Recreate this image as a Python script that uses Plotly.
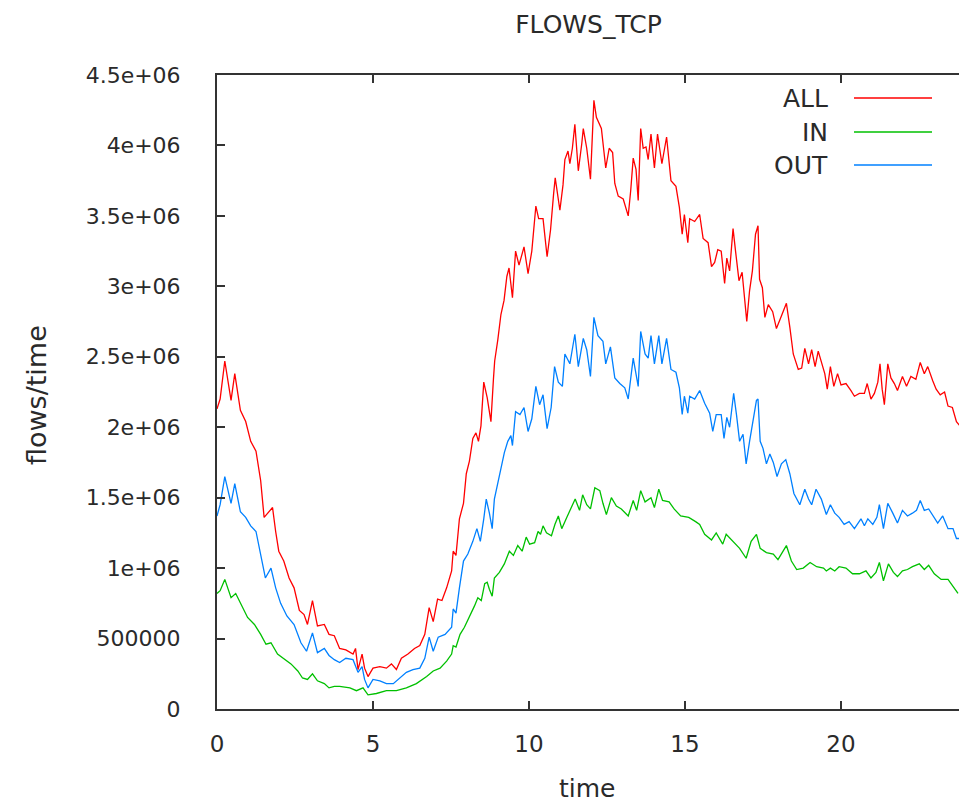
import plotly.graph_objects as go

# ---- data (time in hours, flows in millions) ----
time_all = [0, 0.10, 0.25, 0.45, 0.57, 0.75, 0.92, 1.08, 1.25, 1.40, 1.51, 1.67, 1.78, 1.88,
            1.98, 2.14, 2.31, 2.47, 2.64, 2.79, 2.90, 3.06, 3.22, 3.44, 3.59, 3.76,
            3.93, 4.13, 4.36, 4.44, 4.52, 4.65, 4.73, 4.84, 5.00, 5.22, 5.43, 5.59, 5.75, 5.91,
            6.12, 6.33, 6.50, 6.66, 6.80, 6.93, 7.07, 7.21, 7.36, 7.52, 7.57, 7.66, 7.77, 7.90,
            7.99, 8.09, 8.20, 8.30, 8.38, 8.46, 8.55, 8.66, 8.73, 8.78, 8.86, 8.90, 9.00, 9.10, 9.20, 9.29, 9.36, 9.47, 9.57, 9.68, 9.84,
            9.97, 10.09, 10.22, 10.31, 10.45, 10.58, 10.69, 10.79, 10.84, 10.99, 11.09, 11.15, 11.25, 11.31, 11.39, 11.47, 11.58, 11.69, 11.74, 11.85,
            11.97, 12.08, 12.16, 12.32, 12.46, 12.57, 12.68, 12.75, 12.86, 13.02, 13.18, 13.26, 13.34, 13.43, 13.50, 13.58, 13.66, 13.75, 13.82,
            13.91, 14.02, 14.12, 14.26, 14.41, 14.55, 14.71, 14.82, 14.91, 14.98, 15.09, 15.15, 15.31, 15.47, 15.58, 15.74, 15.85,
            15.95, 16.05, 16.16, 16.27, 16.34, 16.43, 16.54, 16.62, 16.73, 16.83, 16.91, 16.98, 17.07, 17.16, 17.26, 17.34, 17.39, 17.48, 17.56, 17.67, 17.81,
            17.93, 18.09, 18.25, 18.36, 18.47, 18.63, 18.74, 18.84, 18.96, 19.06, 19.17, 19.27, 19.37, 19.48, 19.56, 19.66, 19.77,
            19.89, 20.00, 20.16, 20.32, 20.43, 20.59, 20.75, 20.84, 20.96, 21.07, 21.18, 21.25, 21.32, 21.39, 21.50, 21.60, 21.71,
            21.81, 21.97, 22.10, 22.24, 22.40, 22.54, 22.67, 22.78, 22.94, 23.05, 23.18, 23.32, 23.43, 23.57, 23.70, 23.81]
flows_all = [2.13, 2.20, 2.47, 2.19, 2.38, 2.12, 2.04, 1.90, 1.83, 1.62, 1.36, 1.40, 1.43, 1.26,
             1.12, 1.05, 0.93, 0.86, 0.70, 0.67, 0.60, 0.77, 0.59, 0.60, 0.53, 0.52,
             0.43, 0.42, 0.39, 0.43, 0.28, 0.39, 0.29, 0.23, 0.29, 0.30, 0.29, 0.32, 0.28, 0.36,
             0.39, 0.43, 0.45, 0.53, 0.72, 0.62, 0.78, 0.77, 0.86, 0.98, 1.12, 1.09, 1.35, 1.46,
             1.67, 1.76, 1.92, 1.96, 1.90, 2.01, 2.32, 2.21, 2.11, 2.04, 2.34, 2.47, 2.62, 2.80, 2.90, 3.07, 3.13, 2.92, 3.25, 3.15, 3.28,
             3.09, 3.25, 3.57, 3.48, 3.48, 3.21, 3.40, 3.66, 3.77, 3.54, 3.72, 3.90, 3.96, 3.87, 3.98, 4.15, 3.82, 4.01, 4.12, 3.98,
             3.76, 4.32, 4.20, 4.12, 3.84, 3.98, 3.95, 3.73, 3.64, 3.62, 3.50, 3.68, 3.91, 3.83, 3.61, 4.12, 3.98, 3.99, 3.90,
             4.08, 3.84, 4.08, 3.87, 4.06, 3.75, 3.71, 3.56, 3.37, 3.51, 3.31, 3.48, 3.46, 3.51, 3.34, 3.31, 3.14,
             3.17, 3.26, 3.25, 3.02, 3.20, 3.11, 3.41, 3.25, 3.04, 3.10, 2.92, 2.75, 2.97, 3.11, 3.37, 3.43, 3.05, 2.99, 2.78, 2.87, 2.82,
             2.70, 2.79, 2.88, 2.71, 2.52, 2.41, 2.42, 2.56, 2.45, 2.55, 2.43, 2.54, 2.47, 2.38, 2.27, 2.43, 2.29,
             2.38, 2.30, 2.31, 2.26, 2.22, 2.24, 2.24, 2.31, 2.20, 2.24, 2.32, 2.45, 2.27, 2.16, 2.45, 2.35, 2.31,
             2.26, 2.36, 2.29, 2.36, 2.34, 2.46, 2.38, 2.43, 2.33, 2.27, 2.23, 2.25, 2.15, 2.14, 2.04, 2.01]

time_in = [0, 0.10, 0.25, 0.45, 0.60, 0.75, 0.98, 1.20, 1.40, 1.57, 1.73,
           1.94, 2.14, 2.37, 2.59, 2.74, 2.90, 3.06, 3.22, 3.44, 3.59, 3.76,
           3.93, 4.26, 4.47, 4.68, 4.84, 5.11, 5.43, 5.75,
           6.07, 6.39, 6.72, 6.93, 7.15, 7.36, 7.52, 7.57, 7.66, 7.79,
           7.93, 8.09, 8.25, 8.36, 8.47, 8.58, 8.66, 8.73, 8.82, 8.89, 9.05, 9.21, 9.37, 9.50, 9.64, 9.78,
           9.91, 10.02, 10.18, 10.29, 10.37, 10.45, 10.56, 10.72, 10.83, 10.94, 11.05, 11.21, 11.32, 11.48, 11.62, 11.72, 11.85,
           11.97, 12.11, 12.27, 12.37, 12.48, 12.64, 12.80, 12.96, 13.18, 13.34, 13.45, 13.58, 13.72,
           13.91, 14.02, 14.16, 14.28, 14.49, 14.65, 14.86, 15.12, 15.34, 15.47, 15.63, 15.85,
           16.00, 16.21, 16.32, 16.54, 16.75, 16.96, 17.12, 17.29, 17.41, 17.61, 17.83,
           17.98, 18.25, 18.41, 18.58, 18.79, 19.01, 19.22, 19.44, 19.53, 19.66, 19.80,
           19.94, 20.16, 20.37, 20.59, 20.80, 20.96, 21.12, 21.23, 21.36, 21.52, 21.68,
           21.81, 21.97, 22.13, 22.29, 22.51, 22.67, 22.81, 22.99, 23.21, 23.43, 23.59, 23.75]
flows_in = [0.82, 0.84, 0.92, 0.79, 0.82, 0.75, 0.65, 0.60, 0.53, 0.46, 0.47,
            0.39, 0.36, 0.32, 0.27, 0.22, 0.21, 0.25, 0.20, 0.18, 0.15, 0.16,
            0.16, 0.15, 0.13, 0.15, 0.10, 0.11, 0.13, 0.13,
            0.15, 0.18, 0.23, 0.27, 0.29, 0.34, 0.39, 0.45, 0.44, 0.53,
            0.58, 0.65, 0.73, 0.79, 0.77, 0.89, 0.90, 0.85, 0.80, 0.93, 0.97, 1.03, 1.12, 1.09, 1.16, 1.12,
            1.22, 1.17, 1.18, 1.26, 1.24, 1.30, 1.25, 1.23, 1.31, 1.37, 1.28, 1.36, 1.41, 1.49, 1.41, 1.52, 1.45,
            1.42, 1.57, 1.55, 1.46, 1.38, 1.50, 1.44, 1.42, 1.37, 1.48, 1.41, 1.55, 1.47,
            1.50, 1.43, 1.56, 1.48, 1.47, 1.42, 1.37, 1.36, 1.33, 1.31, 1.24, 1.20,
            1.25, 1.17, 1.24, 1.19, 1.14, 1.07, 1.19, 1.24, 1.14, 1.11, 1.10,
            1.06, 1.16, 1.05, 0.99, 1.00, 1.04, 1.01, 1.00, 0.98, 1.00, 0.98,
            1.01, 1.00, 0.96, 0.96, 0.98, 0.93, 0.97, 1.04, 0.91, 1.03, 0.97,
            0.94, 0.98, 0.99, 1.01, 1.03, 0.99, 1.02, 0.96, 0.92, 0.92, 0.87, 0.82]

time_out = [0, 0.10, 0.25, 0.45, 0.57, 0.75, 0.92, 1.08, 1.25, 1.40, 1.55, 1.73, 1.88,
            2.04, 2.24, 2.47, 2.69, 2.87, 3.06, 3.22, 3.44, 3.59, 3.76,
            3.93, 4.13, 4.36, 4.44, 4.52, 4.65, 4.73, 4.84, 5.00, 5.22, 5.43, 5.65, 5.86,
            6.07, 6.28, 6.50, 6.66, 6.80, 6.93, 7.09, 7.31, 7.52, 7.57, 7.66, 7.77, 7.90,
            8.04, 8.20, 8.33, 8.44, 8.55, 8.63, 8.73, 8.82, 8.89, 8.99, 9.10, 9.21, 9.32, 9.42, 9.47, 9.57, 9.71, 9.84,
            9.97, 10.09, 10.22, 10.34, 10.45, 10.58, 10.71, 10.82, 10.94, 11.07, 11.15, 11.25, 11.31, 11.47, 11.58, 11.74, 11.85,
            11.97, 12.08, 12.21, 12.37, 12.46, 12.61, 12.75, 12.91, 13.07, 13.18, 13.34, 13.50, 13.58, 13.72, 13.82,
            13.91, 14.02, 14.16, 14.26, 14.41, 14.55, 14.71, 14.82, 14.91, 14.98, 15.09, 15.15, 15.31, 15.47, 15.63, 15.79,
            15.89, 16.00, 16.16, 16.25, 16.34, 16.43, 16.56, 16.65, 16.75, 16.86, 16.96, 17.07, 17.18, 17.29, 17.34, 17.41, 17.50, 17.61, 17.72, 17.83,
            17.95, 18.09, 18.23, 18.36, 18.49, 18.68, 18.84, 18.96, 19.06, 19.20, 19.37, 19.53, 19.66, 19.80,
            19.94, 20.10, 20.26, 20.43, 20.64, 20.75, 20.86, 21.02, 21.15, 21.23, 21.36, 21.50, 21.66,
            21.81, 21.97, 22.13, 22.29, 22.42, 22.54, 22.67, 22.81, 22.99, 23.10, 23.26, 23.43, 23.59, 23.70, 23.81]
flows_out = [1.37, 1.45, 1.65, 1.46, 1.60, 1.40, 1.36, 1.30, 1.26, 1.10, 0.93, 1.00, 0.86,
             0.75, 0.66, 0.60, 0.47, 0.41, 0.54, 0.40, 0.43, 0.38, 0.35,
             0.33, 0.36, 0.35, 0.31, 0.26, 0.30, 0.21, 0.15, 0.21, 0.20, 0.18, 0.18, 0.22,
             0.26, 0.28, 0.29, 0.36, 0.51, 0.41, 0.51, 0.53, 0.58, 0.71, 0.68, 0.86, 1.05,
             1.10, 1.19, 1.28, 1.19, 1.35, 1.49, 1.39, 1.28, 1.49, 1.60, 1.71, 1.82, 1.90, 1.94, 1.87, 2.11, 2.09, 2.14,
             1.97, 2.06, 2.29, 2.16, 2.23, 1.99, 2.14, 2.43, 2.32, 2.29, 2.52, 2.47, 2.45, 2.66, 2.43, 2.63, 2.55,
             2.36, 2.78, 2.65, 2.61, 2.45, 2.57, 2.35, 2.31, 2.28, 2.20, 2.49, 2.29, 2.68, 2.52, 2.49,
             2.65, 2.45, 2.65, 2.45, 2.63, 2.41, 2.39, 2.28, 2.09, 2.22, 2.10, 2.22, 2.20, 2.26, 2.17, 2.10,
             1.97, 2.09, 2.09, 1.92, 2.07, 2.00, 2.24, 2.09, 1.90, 1.95, 1.74, 1.90, 2.04, 2.19, 2.20, 1.90, 1.85, 1.74, 1.81, 1.75,
             1.65, 1.74, 1.77, 1.67, 1.53, 1.45, 1.56, 1.49, 1.45, 1.56, 1.49, 1.38, 1.45, 1.39,
             1.36, 1.31, 1.33, 1.28, 1.35, 1.30, 1.35, 1.31, 1.36, 1.45, 1.28, 1.46, 1.39,
             1.32, 1.41, 1.37, 1.39, 1.41, 1.48, 1.41, 1.42, 1.36, 1.32, 1.37, 1.28, 1.28, 1.21, 1.21]

x_ticks = [0, 5, 10, 15, 20]
y_ticks = [0, 0.5, 1, 1.5, 2, 2.5, 3, 3.5, 4, 4.5]
y_tick_labels = ["0", "500000", "1e+06", "1.5e+06", "2e+06", "2.5e+06",
                 "3e+06", "3.5e+06", "4e+06", "4.5e+06"]

series = [("ALL", time_all, flows_all, "#ff0000"),
          ("IN", time_in, flows_in, "#00c000"),
          ("OUT", time_out, flows_out, "#0080ff")]

FONT = "DejaVu Sans"
TXT = "#2a2a2a"
AX = "#333333"

fig = go.Figure()
for name, t, v, c in series:
    fig.add_trace(go.Scatter(x=t, y=v, mode="lines", name=name,
                             line=dict(color=c, width=1.3), showlegend=False))

# the page margin is removed by the post script, so the figure fills the window
W, H = 959, 807
# plot area in window pixels
L, R, T, B = 217, 959, 75, 709

def px(x):
    return (x - L) / (R - L)

def py(y):
    return (B - y) / (B - T)

annotations = [
    dict(text="flows/time", x=px(36), y=py(395), xref="paper", yref="paper",
         textangle=-90, showarrow=False, xanchor="center", yanchor="middle",
         font=dict(family=FONT, size=27, color=TXT)),
    dict(text="time", x=px(587), y=py(788), xref="paper", yref="paper",
         showarrow=False, xanchor="center", yanchor="middle",
         font=dict(family=FONT, size=25, color=TXT)),
]
shapes = []
leg_y = [98, 132, 165]
for (name, _, _, c), ly in zip(series, leg_y):
    annotations.append(dict(text=name, x=px(830), y=py(ly), xref="paper", yref="paper",
                            showarrow=False, xanchor="right", yanchor="middle",
                            font=dict(family=FONT, size=25, color=TXT)))
    shapes.append(dict(type="line", xref="paper", yref="paper",
                       x0=px(854), x1=px(932), y0=py(ly), y1=py(ly),
                       line=dict(color=c, width=1.3)))

fig.update_layout(
    width=W, height=H, autosize=False,
    margin=dict(l=L, r=W - R, t=T, b=H - B, pad=0),
    paper_bgcolor="white", plot_bgcolor="white",
    font=dict(family=FONT, size=25, color=TXT),
    title=dict(text="FLOWS_TCP", x=px(588.5), xref="paper", xanchor="center",
               y=1 - 24 / H, yref="container", yanchor="middle",
               font=dict(family=FONT, size=25, color=TXT)),
    annotations=annotations, shapes=shapes,
)
fig.update_xaxes(range=[0, (R - L) / 31.2], tickvals=x_ticks, automargin=False,
                 ticks="inside", ticklen=8, tickwidth=1.5, tickcolor=AX,
                 showline=True, linecolor=AX, linewidth=2, mirror="ticks",
                 showgrid=False, zeroline=False, ticklabelstandoff=13,
                 tickfont=dict(family=FONT, size=23, color=TXT))
fig.update_yaxes(range=[0, 4.5], tickvals=y_ticks, ticktext=y_tick_labels, automargin=False,
                 ticks="inside", ticklen=8, tickwidth=1.5, tickcolor=AX,
                 showline=True, linecolor=AX, linewidth=2, mirror=False,
                 showgrid=False, zeroline=False, ticklabelstandoff=30,
                 tickfont=dict(family=FONT, size=22, color=TXT))

# remove the page margin and scrollbars so the figure sits at the window's corner
fig.write_html("out.html",
               config={"displayModeBar": False},
               post_script="document.body.style.margin='0';"
                           "document.documentElement.style.overflow='hidden';"
                           "document.body.style.overflow='hidden';")
